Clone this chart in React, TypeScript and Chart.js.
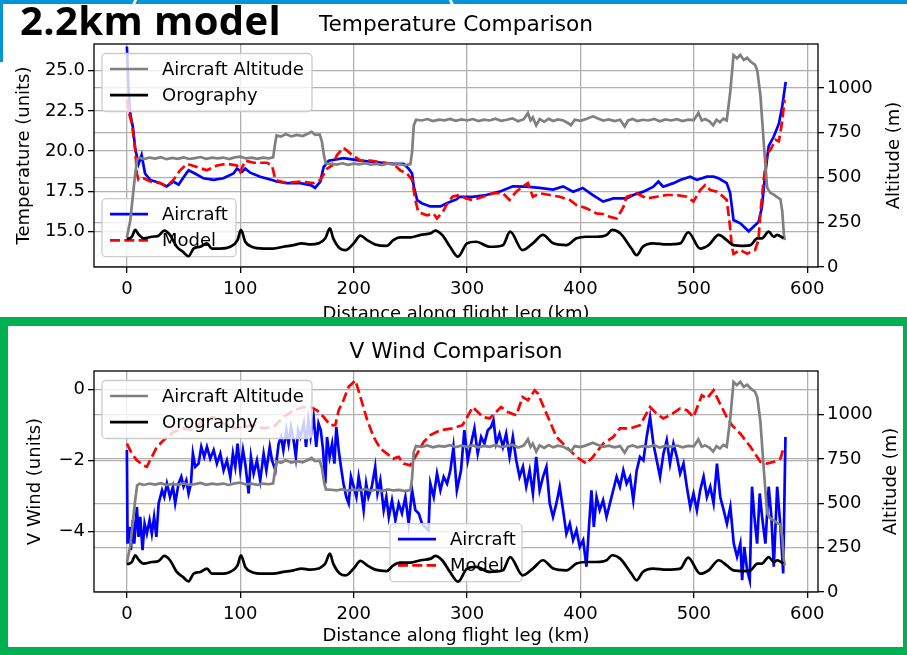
import React, { useEffect, useRef } from "react";
import { Chart, registerables } from "chart.js";
Chart.register(...registerables);

const FONT = "'DejaVu Sans', 'Liberation Sans', sans-serif";

// ---------- shared axis ticks ----------
const xTicks = [0, 100, 200, 300, 400, 500, 600];
const altTicks = [0, 250, 500, 750, 1000];
const tempTicks = [15, 17.5, 20, 22.5, 25];
const windTicks = [-4, -2, 0];

// ---------- Aircraft altitude (m) ----------
const altKm = [0, 3, 5, 7, 9, 11, 15, 20, 25, 30, 35, 40, 45, 50, 55, 60, 65, 70, 75, 80, 85, 90, 95, 100, 105, 110, 115, 120, 125, 129, 130.5, 132, 136, 140, 145, 150, 155, 160, 163, 166, 170, 172, 174, 175.5, 180, 185, 190, 195, 200, 205, 210, 215, 220, 225, 230, 235, 240, 245, 250, 251.5, 253, 255, 260, 265, 270, 275, 280, 285, 290, 295, 300, 305, 310, 315, 320, 325, 330, 335, 340, 345, 350, 353.7, 356, 358, 361, 364, 368, 372, 376, 380, 385, 390, 391.6, 395, 400, 405, 411, 415, 420, 425, 430, 435, 439, 442, 446, 450, 455, 460, 465, 470, 475, 480, 485, 490, 495, 500, 504, 507, 510, 514, 517, 520, 523, 526, 529, 532, 535, 538, 541, 544, 547, 550, 554, 556, 558.7, 561.7, 564.6, 567.5, 570.5, 573.5, 576.4, 578, 579.4, 580.2];
const altVal = [165, 260, 380, 500, 600, 610, 603, 611, 605, 613, 602, 609, 604, 612, 603, 608, 614, 604, 610, 606, 611, 603, 612, 616, 606, 610, 604, 611, 607, 612, 680, 735, 728, 742, 729, 737, 731, 745, 755, 738, 740, 700, 615, 578, 576, 572, 579, 570, 577, 573, 580, 571, 576, 569, 578, 572, 575, 568, 574, 640, 790, 822, 818, 826, 815, 823, 819, 827, 816, 824, 818, 826, 815, 823, 818, 828, 816, 822, 830, 814, 825, 860, 818, 835, 791, 826, 812, 828, 815, 824, 818, 800, 791, 822, 816, 826, 841, 830, 818, 824, 815, 822, 785, 818, 826, 815, 822, 818, 827, 814, 824, 818, 825, 815, 823, 820, 860, 818, 826, 812, 791, 822, 808, 828, 818, 970, 1183, 1165, 1184, 1156, 1168, 1147, 1128, 1095, 960, 690, 444, 414, 404, 390, 378, 310, 182, 150];

// ---------- Orography (m) ----------
const oroKm = [0, 4.4, 7.4, 10.3, 14.7, 22, 28, 33, 38, 44, 49.4, 54.4, 58.8, 64.7, 70.6, 75, 82, 91, 97.6, 100.6, 104.4, 110, 120.6, 129, 138, 147, 154, 162, 169, 175, 179, 182, 188, 193, 200, 206, 212, 219, 229, 235, 241, 250, 259, 268, 272, 278, 285, 292, 300, 308, 320, 331.6, 338, 349, 358, 367, 376, 387.6, 396.5, 405, 414, 423, 428, 435, 445, 449.6, 455, 464, 476, 488, 495, 505.6, 513, 522, 529, 535, 544, 550, 556, 560, 566, 570.5, 573.5, 579];
const oroVal = [156, 169, 207, 182, 160, 169, 175, 203, 179, 113, 85, 60, 103, 113, 132, 103, 103, 113, 150, 207, 141, 113, 103, 103, 113, 122, 132, 126, 132, 160, 216, 160, 103, 94, 132, 175, 150, 126, 118, 150, 165, 165, 179, 188, 203, 179, 113, 58, 132, 141, 113, 122, 197, 94, 132, 179, 132, 122, 160, 169, 169, 179, 207, 188, 103, 66, 113, 132, 126, 132, 194, 103, 122, 179, 150, 122, 118, 122, 160, 160, 197, 169, 179, 160];

// ---------- Temperature: aircraft ----------
const tAirKm = [0, 1.5, 3, 5.3, 7.4, 10.3, 13, 16, 20.6, 25, 29.4, 35, 41, 45.6, 49.4, 54.4, 60, 67.6, 76.5, 85, 94, 97, 101.5, 104.4, 108.8, 117.6, 128, 132, 141, 153, 163, 166, 170.6, 173.5, 178, 191, 206, 220.6, 235, 244, 248.5, 251.5, 253, 256, 260, 267.6, 276.5, 282, 291, 293, 305, 316.8, 328.6, 340.4, 352, 364, 375.8, 384.7, 393.5, 402, 411, 420, 429, 440.7, 446.6, 455.5, 464.3, 468.7, 473, 482, 488, 496.8, 502.6, 511.5, 517.4, 521.8, 529, 532, 535, 541, 548.4, 552.8, 557.2, 560, 563, 566, 570.5, 575, 578, 581];
const tAirVal = [26.5, 23.8, 22.3, 21.5, 20.1, 19.2, 19.75, 18.6, 18.2, 18.1, 18.0, 17.8, 18.1, 17.9, 18.3, 18.8, 18.6, 18.3, 18.2, 18.3, 18.6, 18.9, 18.7, 18.9, 18.65, 18.4, 18.2, 18.1, 18.0, 18.0, 17.85, 17.7, 18.1, 19.0, 19.4, 19.55, 19.4, 19.3, 19.2, 19.2, 18.9, 18.6, 17.8, 16.95, 16.75, 16.55, 16.55, 16.75, 17.0, 17.15, 17.15, 17.26, 17.47, 17.8, 17.78, 17.7, 17.6, 17.8, 17.47, 17.7, 17.26, 16.85, 17.05, 17.05, 17.26, 17.47, 17.78, 18.1, 17.78, 18.0, 18.2, 18.4, 18.2, 18.4, 18.4, 18.3, 18.0, 17.4, 15.7, 15.5, 15.0, 15.3, 15.6, 16.5, 18.6, 20.3, 20.9, 21.7, 22.8, 24.3];

// ---------- Temperature: model ----------
const tModKm = [0, 1.5, 4.4, 7.4, 8.8, 10.3, 14.7, 20.6, 29.4, 35, 41, 47, 53, 61.8, 70.6, 79.4, 88, 97, 100, 104.4, 111.8, 123.5, 128, 131, 141, 153, 164.7, 170.6, 176.5, 181, 185.3, 191, 197, 206, 214.7, 223.5, 235, 241, 247, 251.5, 254.4, 257, 264.7, 270.6, 273.5, 279.4, 281.4, 287, 293, 299, 305, 314, 323, 331.6, 337.5, 343.4, 349, 353.7, 358, 364, 372.9, 381.7, 390.6, 396.5, 405.3, 414, 420, 426, 431.9, 437.8, 440.7, 449.6, 458.4, 467.3, 476, 485, 493.8, 499.7, 505.6, 510, 514.5, 520.4, 526, 529, 531.6, 533.6, 535, 541, 547, 554, 557, 558.6, 561.6, 564.5, 567.5, 572, 575, 578, 580];
const tModVal = [23.2, 22.45, 21.7, 20.06, 18.6, 18.2, 18.3, 18.1, 18.0, 17.8, 18.2, 18.8, 19.2, 19.0, 18.8, 19.1, 19.2, 19.1, 18.7, 19.4, 19.27, 19.27, 19.1, 18.2, 18.0, 18.1, 18.0, 18.2, 18.9, 19.1, 19.75, 20.2, 19.85, 19.4, 19.4, 19.3, 19.2, 18.8, 18.6, 18.2, 16.95, 16.2, 16.0, 16.1, 15.8, 16.3, 16.6, 17.15, 17.26, 17.05, 16.95, 17.15, 17.37, 17.37, 16.95, 17.47, 17.78, 18.0, 17.15, 17.37, 17.26, 17.15, 16.95, 16.64, 16.43, 16.12, 16.08, 15.9, 15.8, 16.5, 17.15, 17.37, 17.05, 17.15, 17.26, 17.26, 17.15, 16.85, 17.57, 17.88, 17.57, 17.47, 17.15, 16.95, 15.5, 14.05, 13.6, 13.84, 13.6, 13.84, 14.46, 16.1, 18.2, 19.85, 20.06, 20.7, 20.6, 21.9, 23.2];

// ---------- V wind: aircraft ----------
const wAirKm = [0, 0.6, 2.4, 3.5, 5.3, 6.5, 8.8, 10.3, 11.8, 13.8, 15.6, 17.6, 20, 22, 24, 26, 28, 31, 33, 35.3, 38, 40.6, 42.6, 45.6, 48, 50, 52.4, 54.4, 56.5, 58.2, 60.3, 63.2, 65.6, 68.2, 70.6, 73.5, 76.5, 79.4, 82.4, 85.3, 88.2, 91.2, 93.5, 95.6, 97.6, 100, 102.4, 104.4, 107.4, 109.4, 111.8, 114.7, 117.6, 120.6, 123, 126, 128, 131, 133.8, 136, 138, 140.6, 142.6, 144.7, 147, 149, 151, 153, 156, 158, 160, 162, 164.7, 167, 169, 171, 173, 175, 176.5, 178.8, 181, 183, 184.7, 186.8, 188.8, 191, 193.5, 195.6, 197.6, 200, 202.4, 204.4, 206.5, 208.8, 211, 213, 216, 219, 221, 223.5, 226.5, 228.8, 231, 233.8, 236.8, 239.7, 242.6, 245.6, 248.5, 251.5, 254.4, 257.4, 260.3, 263, 266, 267.6, 270.6, 273.5, 276.5, 279.4, 282.4, 285.3, 288, 291, 294.7, 297.6, 300.6, 303.5, 306.5, 309.4, 312.4, 315.3, 318.3, 321.2, 323.3, 325.7, 328.6, 331.6, 334.5, 337.5, 340.4, 343.4, 346.3, 349.3, 352.2, 355.2, 358.1, 361, 364, 367, 370, 372.9, 375.8, 378.8, 381.7, 384.7, 387.6, 390.6, 393.5, 396.5, 399.4, 402.4, 405.3, 407.7, 409.7, 411.8, 414.2, 417, 420, 423, 426, 428.9, 431.9, 434.8, 437.8, 440.7, 443.7, 446.6, 449.6, 452.5, 455.5, 458.4, 461.4, 464.3, 467.3, 470.2, 473.2, 476.1, 479, 482, 485, 487.9, 490.9, 493.8, 496.8, 499.7, 502.7, 505.6, 508.6, 511.5, 514.5, 517.4, 520.4, 523.3, 526.3, 529.2, 532.2, 535.2, 538.1, 541, 542.6, 544.5, 547, 549.3, 551.3, 553.4, 555.8, 558.1, 560.2, 563.1, 566, 568.4, 570.5, 573.5, 576.4, 578.8, 580.8];
const wAirVal = [-1.71, -4.34, -3.87, -4.52, -3.68, -4.34, -3.31, -4.15, -3.59, -4.52, -3.78, -4.06, -3.68, -4.06, -3.59, -4.15, -3.21, -2.84, -3.03, -2.65, -3.03, -2.74, -3.21, -2.65, -2.46, -2.74, -2.56, -2.93, -2.65, -1.81, -2.18, -2.09, -1.62, -1.9, -1.62, -1.95, -1.71, -2.09, -1.81, -2.28, -2.0, -2.46, -1.81, -2.18, -1.53, -2.28, -1.71, -2.09, -2.93, -1.9, -2.37, -2.0, -2.56, -1.81, -2.28, -1.62, -2.0, -2.28, -1.53, -1.34, -1.71, -1.15, -1.53, -1.06, -1.43, -1.9, -1.15, -1.34, -0.96, -1.62, -0.87, -1.34, -0.78, -1.62, -0.96, -1.15, -1.71, -2.65, -1.34, -1.9, -1.53, -2.09, -1.06, -1.71, -2.18, -2.65, -3.03, -3.21, -2.46, -2.74, -3.03, -2.46, -2.84, -3.4, -2.65, -3.03, -2.74, -2.18, -2.93, -2.56, -3.4, -3.03, -3.59, -3.12, -3.68, -3.21, -3.49, -3.03, -3.78, -2.84, -3.4, -3.49, -3.78, -3.87, -3.96, -2.65, -3.03, -2.37, -2.84, -2.46, -2.65, -2.28, -1.62, -2.84, -2.28, -1.15, -2.0, -1.53, -1.1, -1.81, -1.34, -1.53, -1.15, -1.06, -0.87, -1.53, -1.25, -1.62, -1.25, -1.9, -1.34, -2.0, -2.46, -2.18, -2.74, -2.28, -2.93, -1.9, -2.84, -2.46, -2.18, -3.21, -3.59, -3.21, -2.74, -3.4, -4.06, -3.78, -4.24, -3.96, -4.43, -4.24, -4.99, -3.78, -2.84, -3.87, -3.03, -3.4, -3.12, -3.59, -3.21, -2.84, -2.46, -2.74, -2.28, -2.65, -2.46, -3.12, -2.28, -1.9, -2.0, -1.34, -0.78, -1.53, -2.0, -2.46, -1.81, -1.43, -2.09, -1.53, -1.9, -2.37, -2.09, -2.74, -3.31, -2.93, -3.4, -2.84, -2.46, -3.03, -2.74, -3.21, -2.09, -3.03, -3.4, -3.78, -3.31, -4.34, -4.71, -4.34, -5.37, -4.43, -5.09, -5.37, -2.74, -3.59, -4.34, -2.93, -3.59, -4.34, -2.74, -3.59, -4.99, -2.74, -3.87, -5.18, -1.34];

// ---------- V wind: model ----------
const wModKm = [0, 4.4, 8.8, 14.7, 17.6, 22, 26.5, 32.4, 41, 50, 58.8, 67.6, 76.5, 85.3, 94, 103, 111.8, 120.6, 129.4, 138, 147, 156, 161.8, 167.6, 173.5, 179.4, 183.8, 186.8, 191, 195.6, 201.5, 206, 212, 217.6, 223.5, 229.4, 235, 239.7, 244, 250, 256, 261.8, 267.6, 276.5, 287, 296, 305, 314, 320, 330, 336, 343.4, 349, 353.7, 359.6, 362.5, 370, 378.8, 387.6, 396.5, 405.3, 411, 420, 429, 434.8, 443.7, 452.5, 461.4, 467, 473, 479, 488, 493.8, 499.7, 507, 511.5, 517.4, 523, 529, 533.6, 541, 550, 558.7, 564.6, 570.5, 576.4, 579.4];
const wModVal = [-1.53, -1.81, -2.0, -2.14, -2.18, -1.9, -1.62, -1.43, -1.2, -1.1, -1.15, -0.87, -0.78, -0.96, -1.1, -1.06, -1.01, -1.1, -1.06, -0.78, -0.59, -0.5, -0.5, -0.59, -0.78, -1.01, -1.01, -0.59, -0.31, 0.07, 0.25, -0.22, -0.87, -1.34, -1.67, -1.81, -1.95, -1.9, -2.09, -2.14, -1.81, -1.48, -1.29, -1.15, -1.1, -1.01, -0.5, -0.78, -0.82, -0.5, -0.64, -0.73, -0.22, -0.31, -0.03, -0.12, -0.68, -1.34, -1.62, -1.9, -2.09, -1.9, -1.53, -1.34, -1.1, -1.1, -1.01, -0.5, -0.68, -0.82, -0.73, -0.54, -0.59, -0.78, -0.17, -0.26, -0.03, -0.4, -0.78, -1.01, -1.25, -1.62, -2.04, -2.09, -2.04, -1.95, -1.62];

const pts = (xs: number[], ys: number[]) => xs.map((x, i) => ({ x, y: ys[i] }));

type LegendItem = { label: string; color: string; dash: number[] };

function drawLegend(ctx: CanvasRenderingContext2D, left: number, top: number, w: number, h: number, items: LegendItem[]) {
  ctx.save();
  ctx.beginPath();
  (ctx as any).roundRect(left, top, w, h, 4);
  ctx.fillStyle = "rgba(255,255,255,0.8)";
  ctx.fill();
  ctx.strokeStyle = "#cccccc";
  ctx.lineWidth = 1.3;
  ctx.stroke();
  items.forEach((it, i) => {
    const cy = top + 15.5 + i * 26.2;
    ctx.beginPath();
    ctx.setLineDash(it.dash);
    ctx.strokeStyle = it.color;
    ctx.lineWidth = 2.7;
    ctx.moveTo(left + 8, cy);
    ctx.lineTo(left + 46, cy);
    ctx.stroke();
    ctx.setLineDash([]);
    ctx.fillStyle = "#000";
    ctx.font = `18px ${FONT}`;
    ctx.textBaseline = "middle";
    ctx.textAlign = "left";
    ctx.fillText(it.label, left + 60, cy + 1);
  });
  ctx.restore();
}

type Spec = {
  W: number;
  H: number;
  area: { left: number; right: number; top: number; bottom: number };
  yMin: number;
  yMax: number;
  yTicks: number[];
  fmt: (v: number) => string;
  left: { km: number[]; val: number[] };
  model: { km: number[]; val: number[] };
  title: string;
  yLabel: string;
  yLabelX: number;
  y2LabelX: number;
  xLabelOffset: number;
  legendACenter: boolean;
};

const minus = (v: number) => (v < 0 ? "\u2212" + Math.abs(v) : String(v));

function makeChart(canvas: HTMLCanvasElement, s: Spec) {
  const { W, H, area } = s;
  const tickFont = { family: FONT, size: 18 };
  const grid = { color: "#b0b0b0", lineWidth: 1.3, tickColor: "#000", tickLength: 6, tickWidth: 1.3, drawTicks: true };
  const setTicks = (vals: number[]) => (sc: any) => {
    sc.ticks = vals.map((v) => ({ value: v }));
  };
  const legendA: LegendItem[] = [
    { label: "Aircraft", color: "#0000ff", dash: [] },
    { label: "Model", color: "#ff0000", dash: [10, 4.3] },
  ];
  const legendB: LegendItem[] = [
    { label: "Aircraft Altitude", color: "#808080", dash: [] },
    { label: "Orography", color: "#000000", dash: [] },
  ];
  const plugin = {
    id: "decor",
    afterDatasetDraw(chart: any, args: any) {
      if (args.index !== 1) return;
      const a = chart.chartArea;
      const ctx = chart.ctx;
      if (s.legendACenter) {
        const w = 132;
        drawLegend(ctx, (a.left + a.right) / 2 - w / 2, a.bottom - 10.3 - 58, w, 58, legendA);
      } else {
        drawLegend(ctx, a.left + 8, a.bottom - 10.3 - 58, 134, 58, legendA);
      }
    },
    afterDatasetsDraw(chart: any) {
      const a = chart.chartArea;
      const ctx: CanvasRenderingContext2D = chart.ctx;
      drawLegend(ctx, a.left + 8, a.top + 9.5, 210, 58, legendB);
      ctx.save();
      ctx.strokeStyle = "#000";
      ctx.lineWidth = 1.3;
      ctx.strokeRect(a.left, a.top, a.right - a.left, a.bottom - a.top);
      ctx.restore();
    },
    afterDraw(chart: any) {
      const a = chart.chartArea;
      const ctx: CanvasRenderingContext2D = chart.ctx;
      ctx.save();
      ctx.fillStyle = "#000";
      ctx.textAlign = "center";
      ctx.textBaseline = "middle";
      ctx.font = `21.7px ${FONT}`;
      ctx.fillText(s.title, (a.left + a.right) / 2, a.top - 19);
      ctx.font = `18px ${FONT}`;
      ctx.fillText("Distance along flight leg (km)", (a.left + a.right) / 2, a.bottom + s.xLabelOffset);
      const cy = (a.top + a.bottom) / 2;
      ctx.save();
      ctx.translate(s.yLabelX, cy);
      ctx.rotate(-Math.PI / 2);
      ctx.fillText(s.yLabel, 0, 0);
      ctx.restore();
      ctx.save();
      ctx.translate(s.y2LabelX, cy);
      ctx.rotate(-Math.PI / 2);
      ctx.fillText("Altitude (m)", 0, 0);
      ctx.restore();
      ctx.restore();
    },
  };

  return new Chart(canvas, {
    type: "line",
    data: {
      datasets: [
        { label: "Aircraft", data: pts(s.left.km, s.left.val), borderColor: "#0000ff", borderWidth: 2.7, pointRadius: 0, yAxisID: "y", order: 4, tension: 0 },
        { label: "Model", data: pts(s.model.km, s.model.val), borderColor: "#ff0000", borderWidth: 2.7, borderDash: [10, 4.3], pointRadius: 0, yAxisID: "y", order: 3, tension: 0 },
        { label: "Aircraft Altitude", data: pts(altKm, altVal), borderColor: "#808080", borderWidth: 2.7, pointRadius: 0, yAxisID: "y2", order: 2, tension: 0 },
        { label: "Orography", data: pts(oroKm, oroVal), borderColor: "#000000", borderWidth: 2.7, pointRadius: 0, yAxisID: "y2", order: 1, cubicInterpolationMode: "monotone" },
      ] as any,
    },
    options: {
      responsive: false,
      animation: false,
      devicePixelRatio: 1,
      layout: { padding: { top: area.top, left: 0, right: 0, bottom: 0 } },
      plugins: { legend: { display: false }, tooltip: { enabled: false }, title: { display: false } },
      scales: {
        x: {
          type: "linear",
          min: -29,
          max: 609.5,
          afterBuildTicks: setTicks(xTicks),
          afterFit: (sc: any) => { sc.height = H - area.bottom; },
          grid,
          border: { display: false },
          ticks: { color: "#000", font: tickFont, padding: 6, maxRotation: 0, autoSkip: false, callback: (v: any) => String(v) },
        },
        y: {
          type: "linear",
          position: "left",
          min: s.yMin,
          max: s.yMax,
          afterBuildTicks: setTicks(s.yTicks),
          afterFit: (sc: any) => { sc.width = area.left; },
          grid,
          border: { display: false },
          ticks: { color: "#000", font: tickFont, padding: 3, autoSkip: false, callback: (v: any) => s.fmt(Number(v)) },
        },
        y2: {
          type: "linear",
          position: "right",
          min: 0,
          max: 1245,
          afterBuildTicks: setTicks(altTicks),
          afterFit: (sc: any) => { sc.width = W - area.right; },
          grid: { ...grid, drawOnChartArea: true },
          border: { display: false },
          ticks: { color: "#000", font: tickFont, padding: 3, autoSkip: false, callback: (v: any) => String(v) },
        },
      } as any,
    },
    plugins: [plugin],
  } as any);
}

const topSpec: Spec = {
  W: 907,
  H: 330,
  area: { left: 94, right: 818, top: 44, bottom: 267 },
  yMin: 12.78,
  yMax: 26.66,
  yTicks: tempTicks,
  fmt: (v) => v.toFixed(1),
  left: { km: tAirKm, val: tAirVal },
  model: { km: tModKm, val: tModVal },
  title: "Temperature Comparison",
  yLabel: "Temperature (units)",
  yLabelX: 24,
  y2LabelX: 894,
  xLabelOffset: 47,
  legendACenter: false,
};

const botSpec: Spec = {
  W: 895,
  H: 320,
  area: { left: 86, right: 810, top: 44, bottom: 265 },
  yMin: -5.7,
  yMax: 0.514,
  yTicks: windTicks,
  fmt: minus,
  left: { km: wAirKm, val: wAirVal },
  model: { km: wModKm, val: wModVal },
  title: "V Wind Comparison",
  yLabel: "V Wind (units)",
  yLabelX: 27,
  y2LabelX: 883.5,
  xLabelOffset: 44,
  legendACenter: true,
};

const BLUE = "#0096d6";
const GREEN = "#00b050";

export default function App() {
  const topRef = useRef<HTMLCanvasElement>(null);
  const botRef = useRef<HTMLCanvasElement>(null);
  useEffect(() => {
    const c1 = makeChart(topRef.current!, topSpec);
    const c2 = makeChart(botRef.current!, botSpec);
    return () => {
      c1.destroy();
      c2.destroy();
    };
  }, []);
  return (
    <div style={{ position: "absolute", left: 0, top: 0, width: 907, height: 655, background: "#fff", overflow: "hidden" }}>
      <canvas ref={topRef} width={907} height={330} style={{ position: "absolute", left: 0, top: 0, width: 907, height: 330 }} />
      <div style={{ position: "absolute", left: 0, top: 0, width: 907, height: 4, background: BLUE }} />
      <div style={{ position: "absolute", left: 0, top: 0, width: 3, height: 62, background: BLUE }} />
      <div style={{ position: "absolute", left: 133, top: 0, width: 3, height: 5, background: "#fff", transform: "skewX(-25deg)" }} />
      <div style={{ position: "absolute", left: 450, top: 0, width: 3, height: 5, background: "#fff", transform: "skewX(25deg)" }} />
      <div
        style={{
          position: "absolute",
          left: 20,
          top: 0,
          fontFamily: "'Open Sans', 'Liberation Sans', sans-serif",
          fontWeight: 700,
          fontSize: 40,
          lineHeight: "40px",
          letterSpacing: "0.4px",
          color: "#000",
          whiteSpace: "nowrap",
        }}
      >
        2.2km model
      </div>
      <div
        style={{
          position: "absolute",
          left: 0,
          top: 317,
          width: 911,
          height: 338,
          boxSizing: "border-box",
          borderStyle: "solid",
          borderColor: GREEN,
          borderWidth: "9px 8px 8px 8px",
          background: "#fff",
        }}
      />
      <canvas ref={botRef} width={895} height={320} style={{ position: "absolute", left: 8, top: 327, width: 895, height: 320 }} />
    </div>
  );
}
